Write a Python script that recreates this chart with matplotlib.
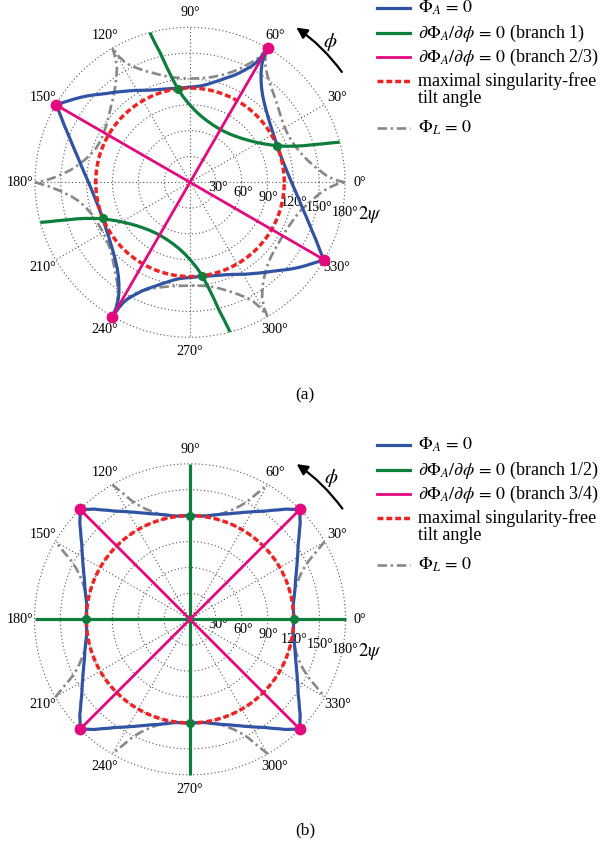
import numpy as np
import matplotlib
matplotlib.use('Agg')
import matplotlib.pyplot as plt
from matplotlib.lines import Line2D

plt.rcParams['font.family'] = ['Liberation Serif', 'DejaVu Serif']
plt.rcParams['mathtext.fontset'] = 'stix'

# ---------------- axes / tick data ----------------
R_OUTER = 180
THETA_TICKS = [0, 30, 60, 90, 120, 150, 180, 210, 240, 270, 300, 330]
R_TICKS = [30, 60, 90, 120, 150, 180]
RLABEL_ANGLE = -11

# ---------------- panel (a) data ----------------
A_TILT_MAX = 109.47
A_VERTEX_THETA = [60, 150, 240, 330]
A_VERTEX_R = [180, 180, 180, 180]
A_TANGENT_THETA = [97.5, 22.5, 202.5, 277.5]

# Phi_A = 0, four segments between the vertices
A_BLUE_S1_T = [150, 148, 146, 144, 142, 140, 138, 136, 134, 132, 130, 127, 124, 121, 118, 115, 111, 107, 103, 99,
               97.5, 95, 91, 87, 83, 80, 77, 74, 71, 68, 66, 64, 62, 61, 60.4, 60]
A_BLUE_S1_R = [180, 174.5, 169.5, 165, 160.5, 156, 151.5, 147, 143, 139.5, 136.5, 132, 128, 124.5, 121, 118, 115, 113,
               111.5, 110.5, 110, 110, 110.5, 111.2, 113, 115.5, 119, 123, 128, 133.5, 138.5, 145, 153, 159.5, 168, 180]
A_BLUE_S3_T = [330, 328, 326, 324, 322, 320, 318, 316, 314, 312, 310, 307, 304, 301, 298, 295, 291, 287, 283, 279,
               277.5, 275, 271, 267, 263, 260, 257, 254, 251, 248, 246, 244, 242, 241, 240.4, 240]
A_BLUE_S3_R = [180, 174.5, 169.5, 165, 160.5, 156, 151.5, 147, 143, 139.5, 136.5, 132, 128, 124.5, 121, 118, 115, 113,
               111.5, 110.5, 110, 110, 110.5, 111.2, 113, 115.5, 119, 123, 128, 133.5, 138.5, 145, 153, 159.5, 168, 180]
A_BLUE_S2_T = [60, 59.6, 58.7, 57.2, 55.2, 52.8, 49.9, 46.4, 42.5, 38.3, 33.7, 28.9, 23.9, 18.7, 13.6, 8.5, 3.6,
               -1.0, -5.2, -9.2, -12.9, -16.2, -19.3, -22.1, -24.6, -27.0, -28.9, -30]
A_BLUE_S2_R = [180, 170.0, 160.8, 152.4, 144.6, 137.5, 131.1, 125.5, 120.7, 116.8, 113.6, 111.4, 110.0, 109.6, 110.4,
               112.3, 115.1, 118.8, 123.3, 128.4, 134.0, 140.2, 146.8, 153.7, 160.9, 168.2, 174.9, 180]
A_BLUE_S4_T = [240, 239.6, 238.7, 237.2, 235.2, 232.8, 229.9, 226.4, 222.5, 218.3, 213.7, 208.9, 203.9, 198.7, 193.6,
               188.5, 183.6, 179.0, 174.8, 170.8, 167.1, 163.8, 160.7, 157.9, 155.4, 153.0, 151.1, 150]
A_BLUE_S4_R = [180, 170.0, 160.8, 152.4, 144.6, 137.5, 131.1, 125.5, 120.7, 116.8, 113.6, 111.4, 110.0, 109.6, 110.4,
               112.3, 115.1, 118.8, 123.3, 128.4, 134.0, 140.2, 146.8, 153.7, 160.9, 168.2, 174.9, 180]

# dPhi_A/dphi = 0, branch 1 (two curves)
A_GREEN1_T = [105.0, 104.1, 102.9, 101.5, 99.6, 97.5, 94.7, 90.7, 86.0, 80.6, 74.5, 68.1, 61.6, 55.3, 49.4, 44.1,
              39.4, 35.3, 31.8, 28.3, 25.3, 22.6, 20.6, 19.0, 17.8, 17.0, 16.2, 15.6, 15.0]
A_GREEN1_R = [180, 166.8, 153.4, 137.2, 121.7, 109.9, 100.0, 90.9, 83.6, 78.0, 74.1, 71.7, 70.8, 71.3, 73.1, 76.0,
              79.6, 84.0, 88.8, 95.0, 102.1, 110.1, 119.1, 128.9, 139.1, 149.3, 159.7, 170.0, 180]
A_GREEN2_T = [285.0, 284.1, 282.9, 281.5, 279.6, 277.5, 274.7, 270.7, 266.0, 260.6, 254.5, 248.1, 241.6, 235.3,
              229.4, 224.1, 219.4, 215.3, 211.8, 208.3, 205.3, 202.6, 200.6, 199.0, 197.8, 197.0, 196.2, 195.6, 195.0]
A_GREEN2_R = [180, 166.8, 153.4, 137.2, 121.7, 109.9, 100.0, 90.9, 83.6, 78.0, 74.1, 71.7, 70.8, 71.3, 73.1, 76.0,
              79.6, 84.0, 88.8, 95.0, 102.1, 110.1, 119.1, 128.9, 139.1, 149.3, 159.7, 170.0, 180]

# branch 2/3: diameters through the vertices
A_PINK_LINES = [(60, 240), (150, 330)]

# Phi_L = 0, six arcs between cusps
A_GRAY_ARCS = [
    ([0, 1, 3, 6, 10, 14, 18, 22, 26, 30, 34, 38, 42, 46, 50, 54, 57, 59, 60],
     [180, 168, 158, 149, 140, 134, 130, 127.5, 126.5, 127, 129, 132, 136, 140.5, 146, 153, 161, 170, 180]),
    ([60, 61, 63, 66, 69, 73, 78, 84, 89, 94, 100, 104, 108, 112, 115, 117, 118.5, 119.5, 120],
     [180, 166, 156, 145, 137.5, 130.5, 125, 121.5, 120.5, 121, 124, 127.5, 133, 139.5, 146.5, 152, 159, 168, 180]),
    ([120, 121, 122.5, 125, 128, 132, 136, 140, 145, 150, 155, 160, 164, 168, 171, 174, 176, 178, 179.3, 180],
     [180, 168, 158, 149, 141, 133, 127.5, 122.5, 118, 115.5, 114.5, 116, 119.5, 125, 131, 139, 147, 158, 168, 180]),
    ([180, 181.5, 184, 187, 190, 194, 198, 203, 208, 213, 218, 223, 227, 231, 234, 236.5, 238.5, 239.5, 240],
     [180, 165, 150, 138, 130, 124, 120, 117.5, 116.5, 117, 119.5, 124, 130, 137.5, 144, 152, 161, 170, 180]),
    ([240, 240.5, 241.5, 243, 246, 250, 255, 260, 266, 272, 278, 284, 289, 293, 296, 298, 299.3, 300],
     [180, 168, 155, 146, 138, 131.5, 126, 122.5, 120.5, 120, 121.5, 126, 133, 141, 149, 157, 167, 180]),
    ([300, 300.5, 302, 305, 308, 312, 317, 322, 327, 332, 337, 342, 346, 349, 352, 355, 357.5, 359.2, 360],
     [180, 170, 158, 147, 140, 133, 128, 125.5, 124.5, 124.5, 126, 129, 133, 138, 144, 151, 160, 170, 180]),
]

# ---------------- panel (b) data ----------------
B_TILT_MAX = 120
B_VERTEX_THETA = [45, 135, 225, 315]
B_VERTEX_R = [180, 180, 180, 180]
B_TANGENT_THETA = [0, 90, 180, 270]

B_BLUE_SIDE_R = [180, 174, 169, 163, 158, 153, 149, 145.5, 142, 139, 136, 133.5, 131, 129, 127.3, 125.5, 124, 122.5,
                 121.2, 120.4, 120.1, 120, 120.1, 120.4, 121.2, 122.5, 124, 125.5, 127.3, 129, 131, 133.5, 136, 139,
                 142, 145.5, 149, 153, 158, 163, 169, 174, 180]
B_BLUE_SIDES_T = [
    [135, 133, 131, 129, 127, 125, 123, 121, 119, 117, 115, 113, 111, 109, 107, 105, 103, 101, 99, 97, 94, 90, 86,
     83, 81, 79, 77, 75, 73, 71, 69, 67, 65, 63, 61, 59, 57, 55, 53, 51, 49, 47, 45],
    [225, 223, 221, 219, 217, 215, 213, 211, 209, 207, 205, 203, 201, 199, 197, 195, 193, 191, 189, 187, 184, 180,
     176, 173, 171, 169, 167, 165, 163, 161, 159, 157, 155, 153, 151, 149, 147, 145, 143, 141, 139, 137, 135],
    [315, 313, 311, 309, 307, 305, 303, 301, 299, 297, 295, 293, 291, 289, 287, 285, 283, 281, 279, 277, 274, 270,
     266, 263, 261, 259, 257, 255, 253, 251, 249, 247, 245, 243, 241, 239, 237, 235, 233, 231, 229, 227, 225],
    [45, 43, 41, 39, 37, 35, 33, 31, 29, 27, 25, 23, 21, 19, 17, 15, 13, 11, 9, 7, 4, 0, -4, -7, -9, -11, -13, -15,
     -17, -19, -21, -23, -25, -27, -29, -31, -33, -35, -37, -39, -41, -43, -45],
]
B_PINK_LINES = [(45, 225), (135, 315)]
B_GREEN_LINES = [(0, 180), (90, 270)]

B_GRAY_ARC_R = [180, 172, 165, 158, 152, 144, 138, 133.5, 128, 124.5, 121.5, 120.2, 120, 120.2, 121.5, 124.5, 128,
                133.5, 138, 144, 152, 158, 165, 172, 180]
B_GRAY_ARCS_T = [
    [120, 119, 118, 117, 116, 114, 112, 110, 107, 104, 100, 95, 90, 85, 80, 76, 73, 70, 68, 66, 64, 63, 62, 61, 60],
    [210, 209, 208, 207, 206, 204, 202, 200, 197, 194, 190, 185, 180, 175, 170, 166, 163, 160, 158, 156, 154, 153,
     152, 151, 150],
    [300, 299, 298, 297, 296, 294, 292, 290, 287, 284, 280, 275, 270, 265, 260, 256, 253, 250, 248, 246, 244, 243,
     242, 241, 240],
    [30, 29, 28, 27, 26, 24, 22, 20, 17, 14, 10, 5, 0, -5, -10, -14, -17, -20, -22, -24, -26, -27, -28, -29, -30],
]

LEGEND_A = [r'$\Phi_A\,=\,0$', r'$\partial\Phi_A/\partial\phi\,=\,0$ (branch 1)',
            r'$\partial\Phi_A/\partial\phi\,=\,0$ (branch 2/3)', 'maximal singularity-free', 'tilt angle',
            r'$\Phi_L\,=\,0$']
LEGEND_B = [r'$\Phi_A\,=\,0$', r'$\partial\Phi_A/\partial\phi\,=\,0$ (branch 1/2)',
            r'$\partial\Phi_A/\partial\phi\,=\,0$ (branch 3/4)', 'maximal singularity-free', 'tilt angle',
            r'$\Phi_L\,=\,0$']

# ---------------- styles ----------------
BLUE = '#3153a3'
GREEN = '#0e7e3c'
PINK = '#e3097f'
RED = '#ee2424'
GRAY = '#888888'
GRIDC = '#555555'
ST_BLUE = dict(color=BLUE, lw=2.3, solid_capstyle='round', solid_joinstyle='round')
ST_GREEN = dict(color=GREEN, lw=2.3, solid_capstyle='butt', solid_joinstyle='round')
ST_PINK = dict(color=PINK, lw=2.0, solid_capstyle='butt')
ST_RED = dict(color=RED, lw=2.5, ls=(0, (1.7, 0.85)))
ST_GRAY = dict(color=GRAY, lw=1.9, ls=(0, (3.6, 1.4, 0.9, 1.4)))

W, H = 609, 850
fig = plt.figure(figsize=(W / 100, H / 100), dpi=100)


def rad(a):
    return np.deg2rad(np.asarray(a, dtype=float))


def setup_polar(cx, cy, rpx):
    ax = fig.add_axes([(cx - rpx) / W, (H - cy - rpx) / H, 2 * rpx / W, 2 * rpx / H], projection='polar')
    ax.set_ylim(0, R_OUTER)
    ax.set_xticks(rad(THETA_TICKS))
    ax.set_xticklabels([f'{t}°' for t in THETA_TICKS], fontsize=10.2)
    ax.tick_params(axis='x', length=0, pad=3.5)
    ax.set_yticks(R_TICKS[:-1])
    ax.set_yticklabels([])
    ax.tick_params(axis='y', length=0)
    ax.grid(True, color=GRIDC, ls=(0, (1, 2.2)), lw=0.8)
    ax.spines['polar'].set_visible(False)
    t = np.linspace(0, 2 * np.pi, 721)
    ax.plot(t, np.full_like(t, R_OUTER), color=GRIDC, ls=(0, (1, 2.2)), lw=0.8, clip_on=False, zorder=1)
    for rt in R_TICKS:
        ax.text(rad(RLABEL_ANGLE), rt + 3, f'{rt}°', ha='center', va='center', fontsize=10.2, zorder=1.5)
    ax.text(rad(-10.1), 212, r'$2\psi$', ha='center', va='center', fontsize=13.5, clip_on=False)
    ax.annotate('', xy=(rad(55.5), 218), xytext=(rad(36), 218), xycoords='data',
                arrowprops=dict(arrowstyle='-|>', color='black', lw=1.6, mutation_scale=16,
                                connectionstyle='arc3,rad=0.083', shrinkA=0, shrinkB=0),
                annotation_clip=False)
    ax.text(rad(45), 231, r'$\phi$', ha='center', va='center', fontsize=15, clip_on=False)
    return ax


def diameter(ax, pair, style, z):
    for th in pair:
        ax.plot(rad([th, th]), [0, R_OUTER], clip_on=False, zorder=z, **style)


def legend(yoff, labels):
    x0, x1, xt = 377, 410, 418
    rows = [8.3, 33.3, 57.3, 81.0, 128.3]
    styles = [ST_BLUE, ST_GREEN, ST_PINK, ST_RED, ST_GRAY]
    for y, st in zip(rows, styles):
        yy = 1 - (y + yoff) / H
        st2 = {k: v for k, v in st.items() if k not in ('solid_capstyle', 'solid_joinstyle')}
        fig.add_artist(Line2D([x0 / W, x1 / W], [yy, yy], transform=fig.transFigure, **st2))
    ys = [8.3, 33.3, 57.3, 81.0, 98.3, 128.3]
    for y, lab in zip(ys, labels):
        fig.text(xt / W, 1 - (y + yoff) / H, lab, ha='left', va='center', fontsize=13)


# ---------------- panel (a) ----------------
ax = setup_polar(190, 182.3, 155)
for th, rr in A_GRAY_ARCS:
    ax.plot(rad(th), rr, clip_on=False, zorder=2, **ST_GRAY)
for th, rr in [(A_BLUE_S1_T, A_BLUE_S1_R), (A_BLUE_S2_T, A_BLUE_S2_R),
               (A_BLUE_S3_T, A_BLUE_S3_R), (A_BLUE_S4_T, A_BLUE_S4_R)]:
    ax.plot(rad(th), rr, clip_on=False, zorder=3, **ST_BLUE)
tc = np.linspace(0, 2 * np.pi, 721)
ax.plot(tc, np.full_like(tc, A_TILT_MAX), zorder=4, **ST_RED)
ax.plot(rad(A_GREEN1_T), A_GREEN1_R, clip_on=False, zorder=5, **ST_GREEN)
ax.plot(rad(A_GREEN2_T), A_GREEN2_R, clip_on=False, zorder=5, **ST_GREEN)
for pair in A_PINK_LINES:
    diameter(ax, pair, ST_PINK, 6)
ax.plot(rad(A_TANGENT_THETA), [A_TILT_MAX] * 4, 'o', color=GREEN, ms=5.5, zorder=7, clip_on=False)
ax.plot(rad(A_VERTEX_THETA), A_VERTEX_R, 'o', color=PINK, ms=7.5, zorder=8, clip_on=False)
legend(0, LEGEND_A)
fig.text(305 / W, 1 - 395 / H, '(a)', ha='center', va='center', fontsize=12.5)

# ---------------- panel (b) ----------------
ax = setup_polar(190, 619.3, 155.5)
for th in B_GRAY_ARCS_T:
    ax.plot(rad(th), B_GRAY_ARC_R, clip_on=False, zorder=2, **ST_GRAY)
for th in B_BLUE_SIDES_T:
    ax.plot(rad(th), B_BLUE_SIDE_R, clip_on=False, zorder=3, **ST_BLUE)
ax.plot(tc, np.full_like(tc, B_TILT_MAX), zorder=4, **ST_RED)
for pair in B_GREEN_LINES:
    diameter(ax, pair, ST_GREEN, 5)
for pair in B_PINK_LINES:
    diameter(ax, pair, ST_PINK, 6)
ax.plot(rad(B_TANGENT_THETA), [B_TILT_MAX] * 4, 'o', color=GREEN, ms=5.5, zorder=7, clip_on=False)
ax.plot(rad(B_VERTEX_THETA), B_VERTEX_R, 'o', color=PINK, ms=7.5, zorder=8, clip_on=False)
legend(436.7, LEGEND_B)
fig.text(305 / W, 1 - 830 / H, '(b)', ha='center', va='center', fontsize=12.5)

fig.savefig('out.png', dpi=100, facecolor='white')
